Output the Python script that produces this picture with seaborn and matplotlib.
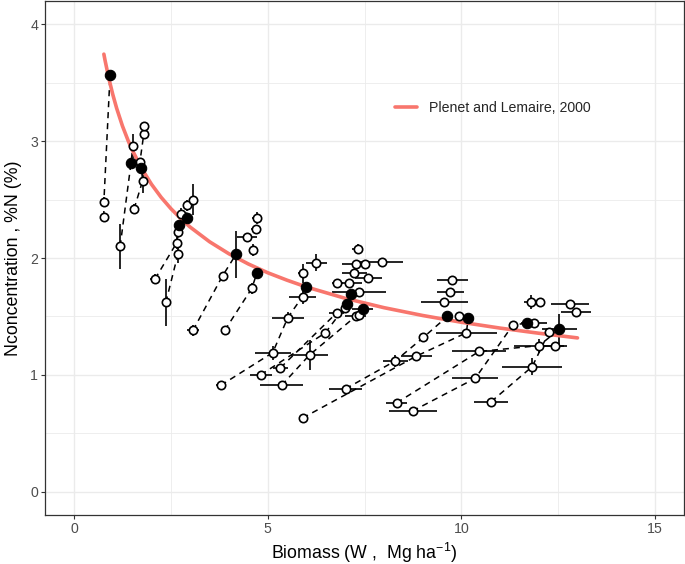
import matplotlib
matplotlib.use("Agg")
import matplotlib.pyplot as plt
from matplotlib.ticker import MultipleLocator
import pandas as pd
import seaborn as sns

# ---- data ----
group = [1, 1, 1,
         2, 2, 2,
         3, 3, 3, 3, 3, 3,
         4, 4, 4, 4,
         5, 5, 5, 5, 5, 5,
         6, 6, 6,
         7, 7, 7,
         8, 8, 8, 8, 8,
         9, 9, 9,
         10, 10, 10, 10,
         11, 11, 11, 11,
         12, 12, 12, 12,
         13, 13, 13, 13,
         14, 14, 14, 14,
         15, 15, 15, 15,
         16, 16, 16,
         0, 0, 0, 0, 0, 0, 0, 0, 0, 0, 0, 0, 0, 0, 0, 0, 0, 0, 0, 0, 0, 0, 0, 0, 0, 0]
biomass = [0.77, 0.77, 0.93,
           1.19, 1.47, 1.52,
           1.55, 1.77, 1.74, 1.70, 1.80, 1.80,
           2.09, 2.65, 2.71, 2.76,
           2.37, 2.68, 2.68, 2.91, 2.91, 3.07,
           3.07, 3.84, 4.18,
           3.89, 4.59, 4.72,
           3.79, 5.13, 5.52, 5.90, 6.00,
           4.82, 6.49, 7.06,
           5.33, 6.78, 7.00, 7.16,
           5.36, 6.08, 7.27, 7.45,
           7.01, 8.30, 9.02, 9.64,
           5.90, 8.84, 10.13, 10.18,
           8.74, 10.36, 11.34, 11.70,
           8.33, 10.46, 12.01, 12.53,
           10.77, 11.83, 12.27,
           4.46, 4.61, 4.69, 4.72, 5.90, 6.26, 6.80, 7.09, 7.24, 7.27, 7.32, 7.35, 7.35,
           7.50, 7.60, 7.94, 9.56, 9.72, 9.77, 9.95, 11.80, 12.04, 11.88, 12.42, 12.81, 12.96]
nconc = [2.35, 2.48, 3.57,
         2.10, 2.81, 2.96,
         2.42, 2.66, 2.77, 2.82, 3.06, 3.13,
         1.82, 2.13, 2.28, 2.38,
         1.62, 2.03, 2.22, 2.34, 2.45, 2.50,
         1.38, 1.85, 2.03,
         1.38, 1.74, 1.87,
         0.91, 1.19, 1.49, 1.67, 1.75,
         1.00, 1.36, 1.61,
         1.06, 1.53, 1.57, 1.69,
         0.91, 1.17, 1.50, 1.56,
         0.88, 1.12, 1.32, 1.50,
         0.63, 1.16, 1.36, 1.49,
         0.69, 0.97, 1.43, 1.44,
         0.76, 1.20, 1.25, 1.39,
         0.77, 1.07, 1.37,
         2.18, 2.07, 2.25, 2.34, 1.87, 1.96, 1.79, 1.79, 1.87, 1.95, 2.08, 1.71, 1.51,
         1.95, 1.83, 1.97, 1.62, 1.71, 1.81, 1.50, 1.62, 1.62, 1.44, 1.25, 1.61, 1.54]
biomass_err = [0, 0, 0,
               0, 0, 0,
               0.08, 0, 0, 0.06, 0, 0,
               0.13, 0.10, 0, 0,
               0, 0, 0, 0, 0, 0,
               0.15, 0, 0,
               0, 0, 0,
               0.13, 0.47, 0.41, 0.34, 0,
               0.28, 0, 0,
               0.20, 0.20, 0, 0,
               0.56, 0.49, 0.28, 0.26,
               0.42, 0.32, 0, 0,
               0, 0.41, 0.79, 0,
               0.62, 0.60, 0, 0,
               0.28, 0.69, 0.64, 0.45,
               0.44, 0.77, 0,
               0.26, 0.10, 0.12, 0.12, 0.12, 0.28, 0.15, 0.34, 0.32, 0.36, 0.13, 0.70, 0,
               0, 0.34, 0.56, 0.60, 0.35, 0.40, 0, 0.19, 0, 0.34, 0.32, 0.49, 0.38]
nconc_err = [0, 0.04, 0,
             0.19, 0, 0.10,
             0.04, 0.10, 0, 0.03, 0, 0,
             0.04, 0.05, 0, 0.05,
             0.20, 0.07, 0, 0, 0.05, 0.13,
             0.05, 0, 0.20,
             0, 0.05, 0,
             0, 0.06, 0.05, 0.06, 0,
             0, 0, 0,
             0, 0, 0, 0,
             0, 0.13, 0, 0,
             0, 0.05, 0, 0,
             0, 0, 0, 0,
             0, 0, 0, 0,
             0, 0, 0.06, 0.13,
             0, 0.07, 0,
             0, 0.05, 0, 0.05, 0.08, 0.07, 0, 0, 0, 0, 0.04, 0, 0,
             0, 0, 0, 0, 0, 0, 0, 0.06, 0, 0, 0, 0, 0]
critical = [0, 0, 1,
            0, 1, 0,
            0, 0, 1, 0, 0, 0,
            0, 0, 1, 0,
            0, 0, 0, 1, 0, 0,
            0, 0, 1,
            0, 0, 1,
            0, 0, 0, 0, 1,
            0, 0, 1,
            0, 0, 0, 1,
            0, 0, 0, 1,
            0, 0, 0, 1,
            0, 0, 0, 1,
            0, 0, 0, 1,
            0, 0, 0, 1,
            0, 0, 0,
            0, 0, 0, 0, 0, 0, 0, 0, 0, 0, 0, 0, 0, 0, 0, 0, 0, 0, 0, 0, 0, 0, 0, 0, 0, 0]

# dilution curve (Plenet and Lemaire, 2000)
curve_w = [0.77, 0.8, 0.9, 1.0, 1.1, 1.25, 1.4, 1.5, 1.75, 2.0, 2.25, 2.5, 2.75, 3.0,
           3.5, 4.0, 4.5, 5.0, 5.5, 6.0, 7.0, 8.0, 9.0, 10.0, 11.0, 12.0, 13.0]
curve_n = [3.745, 3.693, 3.535, 3.40, 3.282, 3.130, 3.002, 2.926, 2.764, 2.631, 2.519,
           2.423, 2.339, 2.264, 2.139, 2.036, 1.949, 1.874, 1.810, 1.752, 1.655, 1.575,
           1.508, 1.450, 1.400, 1.356, 1.316]
curve_label = "Plenet and Lemaire, 2000"

x_ticks = [0, 5, 10, 15]
y_ticks = [0, 1, 2, 3, 4]

df = pd.DataFrame(dict(group=group, W=biomass, N=nconc, We=biomass_err,
                       Ne=nconc_err, crit=critical))
curve = pd.DataFrame(dict(W=curve_w, N=curve_n))

sns.set_theme(style="white")
plt.rcParams['font.family'] = ['Liberation Sans', 'DejaVu Sans']
plt.rcParams['mathtext.fontset'] = 'custom'
plt.rcParams['mathtext.rm'] = 'Liberation Sans'
plt.rcParams['mathtext.it'] = 'Liberation Sans:italic'

fig = plt.figure(figsize=(6.85, 5.64), dpi=100)
ax = fig.add_axes([45 / 685, 1 - 515 / 564, 639 / 685, 514 / 564])
ax.set_facecolor("white")

# dashed connecting lines per series
lines = df[df.group > 0]
sns.lineplot(data=lines, x="W", y="N", units="group", estimator=None, sort=False,
             color="black", lw=1.1, linestyle=(0, (4, 3.2)), ax=ax, legend=False,
             zorder=2)

# error bars
ax.errorbar(df.W, df.N, xerr=df.We, yerr=df.Ne, fmt="none", ecolor="black",
            elinewidth=1.2, capsize=0, zorder=3)

# critical dilution curve
sns.lineplot(data=curve, x="W", y="N", color="#F8766D", lw=2.6, ax=ax,
             label=curve_label, zorder=4)

# points
sns.scatterplot(data=df[df.crit == 0], x="W", y="N", marker="o", facecolor="white",
                edgecolor="black", linewidth=1.2, s=36, ax=ax, legend=False, zorder=5)
sns.scatterplot(data=df[df.crit == 1], x="W", y="N", marker="o", facecolor="black",
                edgecolor="black", linewidth=0.8, s=56, ax=ax, legend=False, zorder=6)

ax.set_xlim(-0.75, 15.75)
ax.set_ylim(-0.2, 4.2)
ax.set_xticks(x_ticks)
ax.set_yticks(y_ticks)
ax.xaxis.set_minor_locator(MultipleLocator(2.5))
ax.yaxis.set_minor_locator(MultipleLocator(0.5))
ax.grid(which="major", color="#EBEBEB", lw=1.0, zorder=0)
ax.grid(which="minor", color="#EBEBEB", lw=0.6, zorder=0)
ax.set_axisbelow(True)
for s in ax.spines.values():
    s.set_color("#333333")
    s.set_linewidth(0.9)
ax.tick_params(which="major", length=3, width=0.8, color="#333333",
               labelsize=10.2, labelcolor="#4D4D4D", pad=1.8, bottom=True, left=True)
ax.tick_params(which="minor", length=0)

ax.set_xlabel("Biomass (W ,  Mg ha$^{-1}$)", fontsize=12.8, color="black", labelpad=4)
ax.set_ylabel("Nconcentration , %N (%)", fontsize=12.8, color="black", labelpad=6)

ax.legend(loc="center left", bbox_to_anchor=(0.548, 0.792), frameon=False,
          borderaxespad=0, borderpad=0, handlelength=1.55, handletextpad=0.85,
          prop={"size": 10.2})

fig.savefig("out.png", dpi=100)
